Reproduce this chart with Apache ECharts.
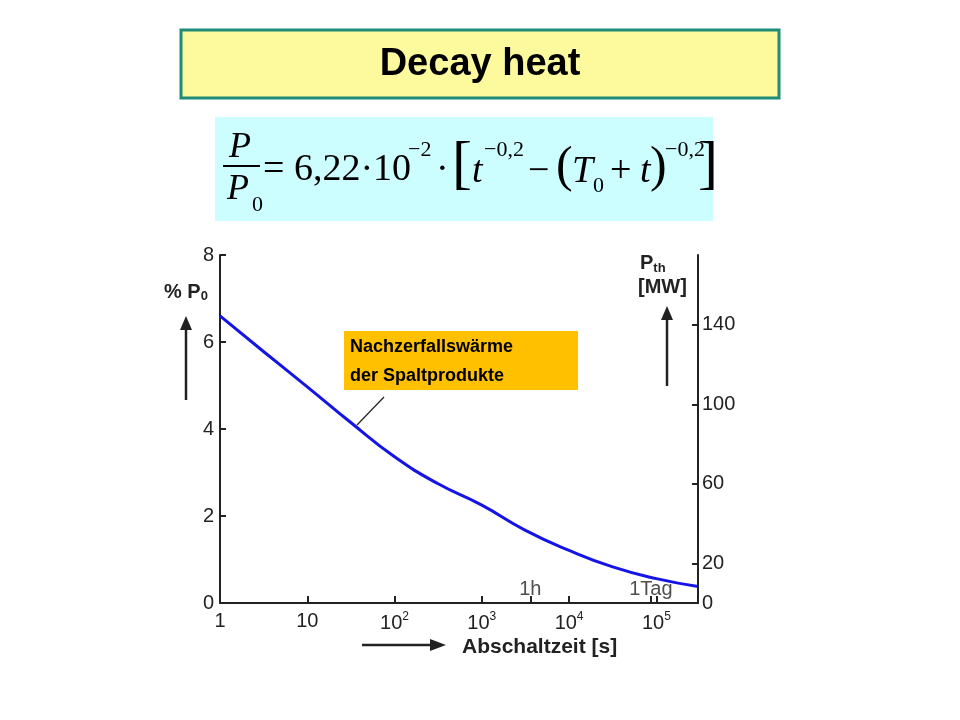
<!DOCTYPE html>
<html><head><meta charset="utf-8">
<script src="https://cdn.jsdelivr.net/npm/echarts@6/dist/echarts.min.js"></script>
<style>html,body{margin:0;padding:0;background:#fff}#c{width:960px;height:720px}</style>
</head><body><div id="c"></div>
<script>
// data: shutdown time [s] and decay heat [% P0]
const times = [1, 3.2, 10, 31, 100, 316, 1000, 3162, 10000, 31600, 100000, 300000];
const decayPct = [6.6, 5.77, 4.97, 4.16, 3.36, 2.74, 2.25, 1.67, 1.21, 0.83, 0.56, 0.38];
const xTickExp = [0, 1, 2, 3, 4, 5];
const leftTicks = [0, 2, 4, 6, 8];
const rightTicks = [0, 20, 60, 100, 140];
const specialTimes = [3600, 86400];
const specialLabels = ['1h', '1Tag'];
const mwPerPct = 21.9;

const F = 'Liberation Sans, Arial, sans-serif';
const S = 'Liberation Serif, Times New Roman, serif';
const chart = echarts.init(document.getElementById('c'));
const xmax = Math.log10(300000);
chart.setOption({
  animation: false,
  grid: {left: 220, right: 262, top: 255, bottom: 117},
  xAxis: {
    type: 'value', min: 0, max: xmax,
    axisLine: {lineStyle: {color: '#222', width: 2}},
    axisTick: {customValues: xTickExp.concat(specialTimes.map(Math.log10)), inside: true, length: 7, lineStyle: {color: '#222', width: 2}},
    axisLabel: {customValues: xTickExp, color: '#222', fontFamily: F, fontSize: 20, margin: 8,
      formatter: v => { const e = Math.round(v); return e === 0 ? '1' : e === 1 ? '10' : '10{s|' + e + '}'; },
      rich: {s: {fontSize: 12, verticalAlign: 'top', padding: [0,0,12,0], fontFamily: F, color: '#222'}}},
    splitLine: {show: false}
  },
  yAxis: [
    {type: 'value', min: 0, max: 8, position: 'left',
      axisLine: {show: true, lineStyle: {color: '#222', width: 2}},
      axisTick: {customValues: leftTicks, inside: true, length: 6, lineStyle: {color: '#222', width: 2}},
      axisLabel: {customValues: leftTicks, color: '#222', fontFamily: F, fontSize: 20, margin: 6},
      splitLine: {show: false}},
    {type: 'value', min: 0, max: 8 * mwPerPct, position: 'right',
      axisLine: {show: true, lineStyle: {color: '#222', width: 2}},
      axisTick: {customValues: rightTicks, inside: true, length: 6, lineStyle: {color: '#222', width: 2}},
      axisLabel: {customValues: rightTicks, color: '#222', fontFamily: F, fontSize: 20, margin: 4},
      splitLine: {show: false}}
  ],
  series: [
    {type: 'line', data: times.map((t, i) => [Math.log10(t), decayPct[i]]), smooth: true, showSymbol: false,
      lineStyle: {color: '#1414e6', width: 3}},
    {type: 'scatter', data: specialTimes.map((t, i) => ({value: [Math.log10(t), 0], name: specialLabels[i]})),
      symbolSize: 0, label: {show: true, position: 'top', distance: 4, formatter: p => p.name, color: '#222', fontFamily: F, fontSize: 20}}
  ],
  graphic: [
    {type: 'rect', shape: {x: 181, y: 30, width: 598, height: 68}, style: {fill: '#fdfa9e', stroke: '#1f8c78', lineWidth: 3}},
    {type: 'text', x: 480, y: 65, style: {text: 'Decay heat', font: 'bold 38px ' + F, fill: '#000', textAlign: 'center', textVerticalAlign: 'middle'}},
    {type: 'rect', shape: {x: 215, y: 117, width: 498, height: 104}, style: {fill: '#ccfdff'}},
    {type: 'text', x: 240, y: 148, style: {text: 'P', font: 'italic 36px ' + S, fill: '#000', textAlign: 'center', textVerticalAlign: 'middle'}},
    {type: 'line', shape: {x1: 223, y1: 166, x2: 260, y2: 166}, style: {stroke: '#000', lineWidth: 2}},
    {type: 'text', x: 238, y: 190, style: {text: 'P', font: 'italic 36px ' + S, fill: '#000', textAlign: 'center', textVerticalAlign: 'middle'}},
    {type: 'text', x: 252, y: 205, style: {text: '0', font: '22px ' + S, fill: '#000', textVerticalAlign: 'middle'}},
    {type: 'text', x: 263, y: 170, style: {text: '= 6,22·10', font: '38px ' + S, fill: '#000', textVerticalAlign: 'middle'}},
    {type: 'text', x: 408, y: 150, style: {text: '−2', font: '22px ' + S, fill: '#000', textVerticalAlign: 'middle'}},
    {type: 'text', x: 436, y: 170, style: {text: '·', font: '38px ' + S, fill: '#000', textVerticalAlign: 'middle'}},
    {type: 'text', x: 452, y: 166, style: {text: '[', font: '60px ' + S, fill: '#000', textVerticalAlign: 'middle'}},
    {type: 'text', x: 472, y: 172, style: {text: 't', font: 'italic 38px ' + S, fill: '#000', textVerticalAlign: 'middle'}},
    {type: 'text', x: 484, y: 150, style: {text: '−0,2', font: '22px ' + S, fill: '#000', textVerticalAlign: 'middle'}},
    {type: 'text', x: 528, y: 172, style: {text: '−', font: '38px ' + S, fill: '#000', textVerticalAlign: 'middle'}},
    {type: 'text', x: 556, y: 168, style: {text: '(', font: '50px ' + S, fill: '#000', textVerticalAlign: 'middle'}},
    {type: 'text', x: 572, y: 172, style: {text: 'T', font: 'italic 38px ' + S, fill: '#000', textVerticalAlign: 'middle'}},
    {type: 'text', x: 593, y: 186, style: {text: '0', font: '22px ' + S, fill: '#000', textVerticalAlign: 'middle'}},
    {type: 'text', x: 610, y: 172, style: {text: '+', font: '38px ' + S, fill: '#000', textVerticalAlign: 'middle'}},
    {type: 'text', x: 640, y: 172, style: {text: 't', font: 'italic 38px ' + S, fill: '#000', textVerticalAlign: 'middle'}},
    {type: 'text', x: 650, y: 168, style: {text: ')', font: '50px ' + S, fill: '#000', textVerticalAlign: 'middle'}},
    {type: 'text', x: 665, y: 150, style: {text: '−0,2', font: '22px ' + S, fill: '#000', textVerticalAlign: 'middle'}},
    {type: 'text', x: 698, y: 166, style: {text: ']', font: '60px ' + S, fill: '#000', textVerticalAlign: 'middle'}},
    {type: 'rect', shape: {x: 344, y: 331, width: 234, height: 59}, style: {fill: '#ffc000'}},
    {type: 'text', x: 350, y: 347, style: {text: 'Nachzerfallswärme', font: 'bold 18px ' + F, fill: '#000', textVerticalAlign: 'middle'}},
    {type: 'text', x: 350, y: 376, style: {text: 'der Spaltprodukte', font: 'bold 18px ' + F, fill: '#000', textVerticalAlign: 'middle'}},
    {type: 'line', shape: {x1: 384, y1: 397, x2: 357, y2: 425}, style: {stroke: '#222', lineWidth: 1.2}},
    {type: 'text', x: 164, y: 292, style: {text: '% P{s|0}', font: 'bold 20px ' + F, fill: '#222', textVerticalAlign: 'middle', rich: {s: {font: 'bold 13px ' + F, fill: '#222', verticalAlign: 'bottom', padding: [8,0,0,0]}}}},
    {type: 'line', shape: {x1: 186, y1: 400, x2: 186, y2: 328}, style: {stroke: '#222', lineWidth: 2.5}},
    {type: 'polygon', shape: {points: [[180, 330], [192, 330], [186, 316]]}, style: {fill: '#222'}},
    {type: 'text', x: 640, y: 263, style: {text: 'P{s|th}', font: 'bold 20px ' + F, fill: '#222', textVerticalAlign: 'middle', rich: {s: {font: 'bold 13px ' + F, fill: '#222', padding: [10,0,0,0]}}}},
    {type: 'text', x: 638, y: 287, style: {text: '[MW]', font: 'bold 20px ' + F, fill: '#222', textVerticalAlign: 'middle'}},
    {type: 'line', shape: {x1: 667, y1: 386, x2: 667, y2: 318}, style: {stroke: '#222', lineWidth: 2.5}},
    {type: 'polygon', shape: {points: [[661, 320], [673, 320], [667, 306]]}, style: {fill: '#222'}},
    {type: 'line', shape: {x1: 362, y1: 645, x2: 432, y2: 645}, style: {stroke: '#222', lineWidth: 2.5}},
    {type: 'polygon', shape: {points: [[430, 639], [430, 651], [446, 645]]}, style: {fill: '#222'}},
    {type: 'text', x: 462, y: 647, style: {text: 'Abschaltzeit [s]', font: 'bold 21px ' + F, fill: '#222', textVerticalAlign: 'middle'}}
  ]
});
</script></body></html>
